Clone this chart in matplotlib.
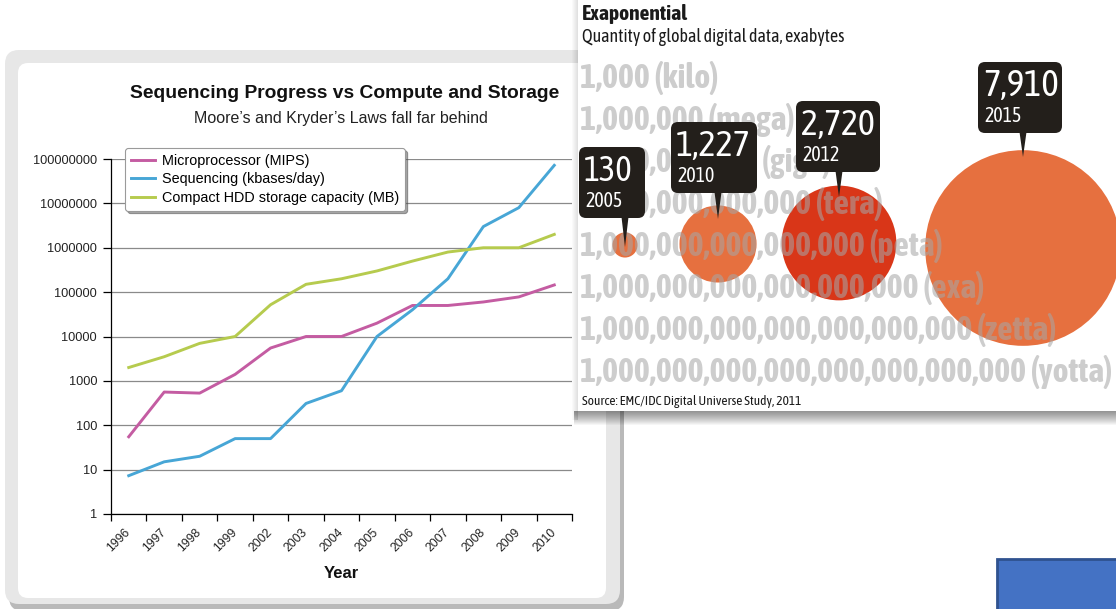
import matplotlib
matplotlib.use('Agg')
import matplotlib.pyplot as plt
from matplotlib import font_manager as fm
from matplotlib import patheffects as pe
from matplotlib.patches import FancyBboxPatch, Rectangle, Polygon
from matplotlib.ticker import NullLocator
import numpy as np

# ---------------- data ----------------
years = ['1996', '1997', '1998', '1999', '2002', '2003', '2004',
         '2005', '2006', '2007', '2008', '2009', '2010']
microprocessor_mips = [55, 560, 530, 1400, 5500, 10000, 10000,
                       20000, 50000, 50000, 60000, 78000, 145000]
sequencing_kbases_day = [7.3, 15, 20, 50, 50, 310, 600,
                         10000, 40000, 200000, 3000000, 8000000, 72000000]
hdd_capacity_mb = [2000, 3500, 7000, 10000, 52000, 150000, 200000,
                   300000, 500000, 800000, 1000000, 1000000, 2000000]
series_labels = ['Microprocessor (MIPS)', 'Sequencing (kbases/day)',
                 'Compact HDD storage capacity (MB)']
y_tick_values = [1, 10, 100, 1000, 10000, 100000, 1000000, 10000000, 100000000]
y_tick_labels = ['1', '10', '100', '1000', '10000', '100000', '1000000',
                 '10000000', '100000000']

bubble_years = ['2005', '2010', '2012', '2015']
bubble_exabytes = [130, 1227, 2720, 7910]
bubble_value_labels = ['130', '1,227', '2,720', '7,910']
scale_labels = ['1,000 (kilo)',
                '1,000,000 (mega)',
                '1,000,000,000 (giga)',
                '1,000,000,000,000 (tera)',
                '1,000,000,000,000,000 (peta)',
                '1,000,000,000,000,000,000 (exa)',
                '1,000,000,000,000,000,000,000 (zetta)',
                '1,000,000,000,000,000,000,000,000 (yotta)']

# ---------------- layout / style ----------------
W, H = 1116, 609
fig = plt.figure(figsize=(W / 100, H / 100), dpi=100)
fig.patch.set_facecolor('white')


def wnum(w):
    if isinstance(w, (int, float)):
        return int(w)
    return int(fm.weight_dict.get(w, 400))


entries = fm.fontManager.ttflist
names = {f.name for f in entries}
ARIAL = 'Liberation Sans' if 'Liberation Sans' in names else 'DejaVu Sans'
narrow_all = sorted({f.name for f in entries if ('Narrow' in f.name or 'Condensed' in f.name)})
narrow_bold = sorted({f.name for f in entries
                      if ('Narrow' in f.name or 'Condensed' in f.name) and wnum(f.weight) >= 600})
if narrow_bold:
    COND = narrow_bold[0]
    HAS_BOLD = True
elif narrow_all:
    COND = narrow_all[0]
    HAS_BOLD = False
else:
    COND = 'Roboto' if 'Roboto' in names else ARIAL
    HAS_BOLD = True


def fx(x):
    return x / W


def fy(y):
    return 1 - y / H


renderer = fig.canvas.get_renderer()


def fit_width(t, target):
    bb = t.get_window_extent(renderer=renderer)
    t.set_fontsize(t.get_fontsize() * target / bb.width)
    return t.get_fontsize()


def bold_fx(color, w=1.0):
    if HAS_BOLD:
        return []
    return [pe.Stroke(linewidth=w, foreground=color), pe.Normal()]


# background axes (pixel coords) for left panel frame
bg = fig.add_axes([0, 0, 1, 1], zorder=0)
bg.set_xlim(0, W)
bg.set_ylim(H, 0)
bg.axis('off')
bg.add_patch(FancyBboxPatch((9, 55), 615, 556, boxstyle='round,pad=0,rounding_size=14',
                            fc='#b9b9b9', ec='none'))
bg.add_patch(FancyBboxPatch((5, 50), 615, 554, boxstyle='round,pad=0,rounding_size=14',
                            fc='#e7e7e7', ec='none'))
bg.add_patch(FancyBboxPatch((18, 63), 588, 535, boxstyle='round,pad=0,rounding_size=10',
                            fc='white', ec='none'))

# ---------------- left chart ----------------
ax = fig.add_axes([fx(111), fy(514), fx(572) - fx(111), fy(159) - fy(514)], zorder=2)
ax.set_facecolor('none')
x = np.arange(len(years))
ax.plot(x, microprocessor_mips, color='#c45ca2', lw=2.1, label=series_labels[0])
ax.plot(x, sequencing_kbases_day, color='#47a6d6', lw=2.1, label=series_labels[1])
ax.plot(x, hdd_capacity_mb, color='#b6cb4e', lw=2.1, label=series_labels[2])
ax.set_yscale('log')
ax.set_ylim(1, 1e8)
ax.set_xlim(-0.5, len(years) - 0.5)
ax.set_yticks(y_tick_values)
ax.set_yticklabels(y_tick_labels, fontsize=9.2, family=ARIAL, color='#222222')
ax.yaxis.set_minor_locator(NullLocator())
ax.set_xticks(x)
ax.set_xticklabels(years, rotation=45, ha='right', va='center', rotation_mode='anchor',
                   fontsize=8.8, family=ARIAL, color='#222222')
ax.set_xticks(np.arange(-0.5, len(years), 1.0), minor=True)
ax.tick_params(axis='x', which='major', length=0, pad=12)
ax.tick_params(axis='x', which='minor', length=5, width=0.9, direction='out')
ax.tick_params(axis='y', which='major', length=6, width=0.9, direction='out', pad=4)
ax.grid(axis='y', which='major', color='#8a8a8a', lw=0.9)
ax.set_axisbelow(True)
for s in ['top', 'right']:
    ax.spines[s].set_visible(False)
ax.spines['left'].set_linewidth(0.9)
ax.spines['bottom'].set_linewidth(0.9)

leg = ax.legend(loc='upper left', bbox_to_anchor=((125 - 111) / 461, (514 - 148) / 355),
                borderaxespad=0, fancybox=True, shadow=True, frameon=True,
                prop={'family': ARIAL, 'size': 10.4}, handlelength=1.7,
                labelspacing=0.32, borderpad=0.4, handletextpad=0.45, edgecolor='#9a9a9a')
leg.get_frame().set_linewidth(0.8)
leg.get_frame().set_facecolor('white')
leg.set_zorder(10)

fig.text(fx(345), fy(93), 'Sequencing Progress vs Compute and Storage', ha='center', va='center',
         fontsize=13.9, fontweight='bold', family=ARIAL, color='#111111')
fig.text(fx(341), fy(118), "Moore\u2019s and Kryder\u2019s Laws fall far behind", ha='center',
         va='center', fontsize=11.5, family=ARIAL, color='#222222')
fig.text(fx(341), fy(574), 'Year', ha='center', va='center', fontsize=12,
         fontweight='bold', family=ARIAL, color='#111111')

# ---------------- right infographic ----------------
ov = fig.add_axes([0, 0, 1, 1], zorder=5)
ov.set_xlim(0, W)
ov.set_ylim(H, 0)
ov.axis('off')

# panel shadow + panel
for k in range(14):
    ov.add_patch(Rectangle((574, 411), 542, 14 - k, fc='black', ec='none', alpha=0.035, zorder=0))
for k in range(6):
    ov.add_patch(Rectangle((578 - (6 - k), 0), 6 - k, 420, fc='black', ec='none', alpha=0.02,
                           zorder=0))
ov.add_patch(Rectangle((578, 0), W - 578, 411, fc='white', ec='none', zorder=0.5))

# bubbles (area proportional to exabytes)
bubble_x = [625, 718, 839, 1023]
bubble_y = [245, 244, 243, 248]
bubble_colors = ['#e6703f', '#e6703f', '#d93618', '#e6703f']
ov.scatter(bubble_x, bubble_y, s=2.509 * np.array(bubble_exabytes), c=bubble_colors,
           linewidths=0, zorder=2)

# faint scale text on top of bubbles
row_y = [78, 120, 162, 204, 246, 288, 330, 372]
faint = '#a6a6a6'
texts = []
for lab, yy in zip(scale_labels, row_y):
    t = ov.text(580, yy, lab, ha='left', va='center', fontsize=24, fontweight='bold',
                family=COND, color=faint, alpha=0.56, zorder=3,
                path_effects=bold_fx(faint, 1.6))
    texts.append(t)
fs = fit_width(texts[-1], 531)
for t in texts:
    t.set_fontsize(fs)

# callouts
box_x0 = [579, 671, 796, 978]
box_x1 = [645, 757, 880, 1062]
box_top = [147, 122, 101, 62]
box_h = 71
tips = [247, 219, 197, 157]
num_widths = [49, 75, 74, 76]
for i in range(4):
    x0, x1, y0 = box_x0[i], box_x1[i], box_top[i]
    ov.add_patch(FancyBboxPatch((x0, y0), x1 - x0, box_h,
                                boxstyle='round,pad=0,rounding_size=7',
                                fc='#231f1b', ec='none', zorder=4))
    px = bubble_x[i]
    ov.add_patch(Polygon([(px - 3.5, y0 + box_h - 1), (px + 3.5, y0 + box_h - 1), (px, tips[i])],
                         closed=True, fc='#231f1b', ec='none', zorder=4))
    tn = ov.text(x0 + 5, y0 + 24, bubble_value_labels[i], ha='left', va='center', fontsize=24,
                 family=COND, color='white', zorder=5)
    fit_width(tn, num_widths[i])
    ty = ov.text(x0 + 6, y0 + 54, bubble_years[i], ha='left', va='center', fontsize=12,
                 family=COND, color='white', zorder=5, path_effects=bold_fx('white', 0.4))
    fit_width(ty, 37)

t1 = ov.text(582, 14, 'Exaponential', ha='left', va='center', fontsize=14, fontweight='bold',
             family=COND, color='#1a1a1a', zorder=5, path_effects=bold_fx('#1a1a1a', 1.1))
fit_width(t1, 106)
t2 = ov.text(582, 37, 'Quantity of global digital data, exabytes', ha='left', va='center',
             fontsize=12, family=COND, color='#1a1a1a', zorder=5)
fit_width(t2, 263)
t3 = ov.text(582, 401, 'Source: EMC/IDC Digital Universe Study, 2011', ha='left', va='center',
             fontsize=9.5, family=COND, color='#1a1a1a', zorder=5)
fit_width(t3, 222)

# blue slide shape in corner
ov.add_patch(Rectangle((997, 559), 125, 55, fc='#4472c4', ec='#2f528f', lw=2, zorder=6))

fig.savefig('out.png', dpi=100, facecolor='white')
